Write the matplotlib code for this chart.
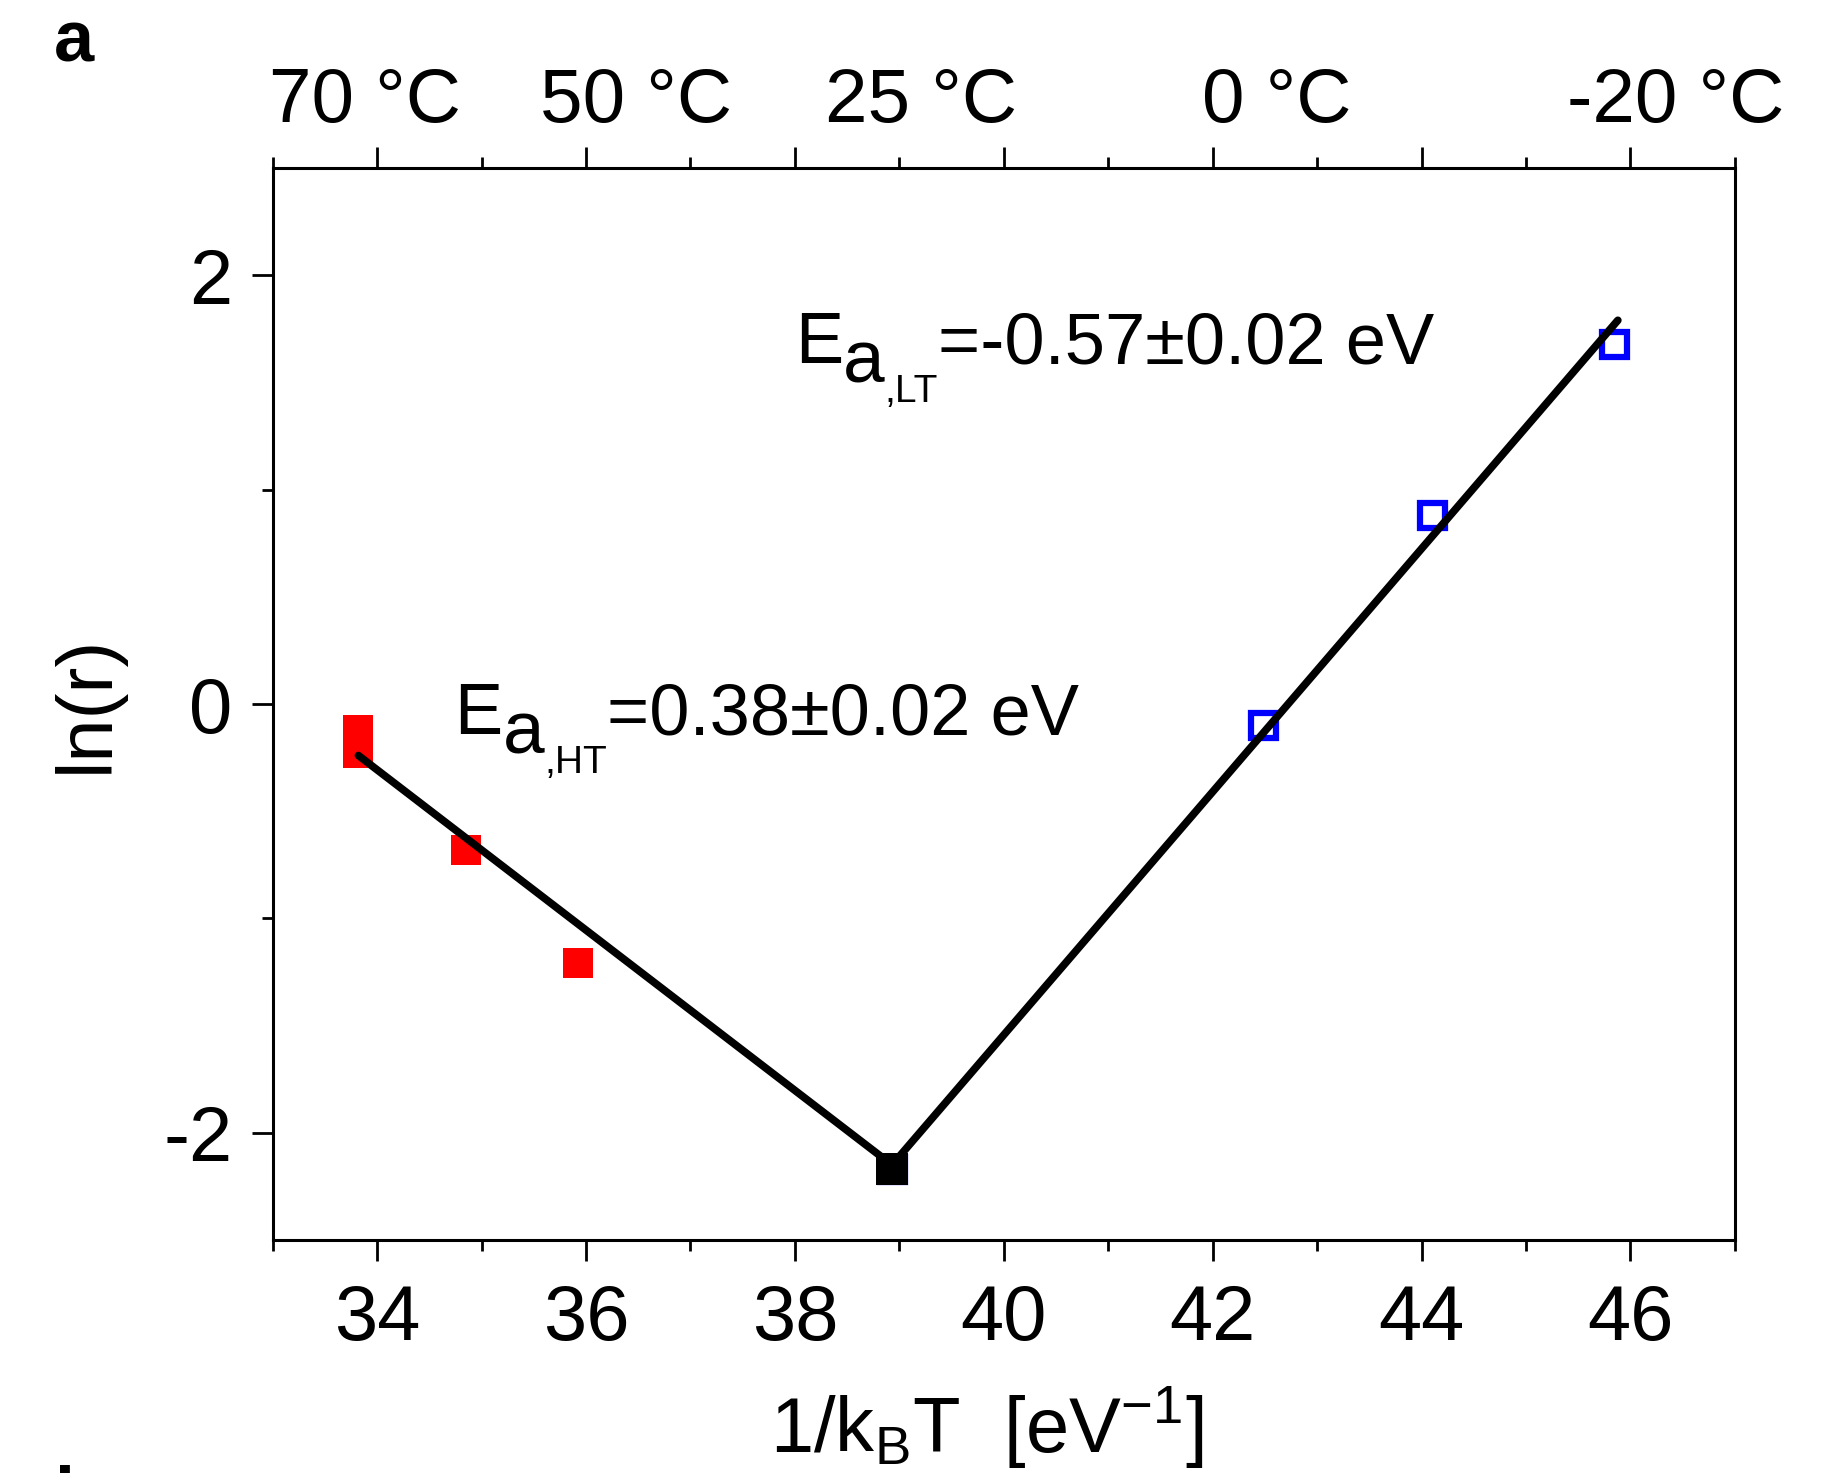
import numpy as np
import matplotlib
matplotlib.use("Agg")
import matplotlib.pyplot as plt
from matplotlib.ticker import MultipleLocator
import matplotlib.transforms as mtransforms

plt.rcParams['font.family'] = 'Liberation Sans'
plt.rcParams['mathtext.fontset'] = 'custom'
plt.rcParams['mathtext.rm'] = 'Liberation Sans'
plt.rcParams['mathtext.it'] = 'Liberation Sans:italic'
plt.rcParams['mathtext.bf'] = 'Liberation Sans:bold'
plt.rcParams['axes.unicode_minus'] = False

# high temperature points (red, filled)
ht_x = [33.82, 33.82, 34.85, 35.92]
ht_y = [-0.12, -0.23, -0.68, -1.21]
# low temperature points (blue, open)
lt_x = [38.93, 42.48, 44.10, 45.84]
lt_y = [-2.17, -0.10, 0.88, 1.68]
# crossover point (black)
mid_x = [38.93]
mid_y = [-2.17]

# fitted lines
ht_fit_x = [33.82, 38.93]
ht_fit_y = [-0.24, -2.15]
lt_fit_x = [38.93, 45.88]
lt_fit_y = [-2.15, 1.79]

# temperature labels on the top axis
temp_labels = ["70 °C", "50 °C", "25 °C", "0 °C", "-20 °C"]
temp_pos = [33.88, 36.48, 39.21, 42.61, 46.43]

fig = plt.figure(figsize=(18.43, 14.73), dpi=100)
ax = fig.add_axes([0.148, 0.1582, 0.9413 - 0.148, 0.8859 - 0.1582])

ax.plot(ht_fit_x, ht_fit_y, color='black', lw=5.5, zorder=4, solid_capstyle='round')
ax.plot(lt_fit_x, lt_fit_y, color='black', lw=5.5, zorder=4, solid_capstyle='round')

ax.plot(ht_x, ht_y, 's', color='red', ms=22, mew=0, zorder=3)
ax.plot(lt_x, lt_y, 's', mfc='none', mec='blue', ms=18, mew=4.5, zorder=3)
ax.plot(mid_x, mid_y, 's', color='black', ms=23, mew=0, zorder=5)

ax.set_xlim(33, 47)
ax.set_ylim(-2.5, 2.5)
ax.xaxis.set_major_locator(MultipleLocator(2))
ax.xaxis.set_minor_locator(MultipleLocator(1))
ax.yaxis.set_major_locator(MultipleLocator(2))
ax.yaxis.set_minor_locator(MultipleLocator(1))

ax.tick_params(axis='x', which='both', direction='out', top=True, labeltop=False,
               width=2, labelsize=56, pad=16)
ax.tick_params(axis='y', which='both', direction='out', right=False,
               width=2, labelsize=56, pad=14)
ax.tick_params(which='major', length=15)
ax.tick_params(which='minor', length=8)
for s in ax.spines.values():
    s.set_linewidth(2.2)

ax.set_xlabel(r'1/k$_\mathregular{B}$T  [eV$^\mathregular{-1}$]', fontsize=56)
ax.set_ylabel('ln(r)', fontsize=56)
ax.xaxis.set_label_coords(0.488, -0.135)
ax.yaxis.set_label_coords(-0.102, 0.5)

trans = mtransforms.blended_transform_factory(ax.transData, ax.transAxes)
for lab, xp in zip(temp_labels, temp_pos):
    ax.text(xp, 1.043, lab, transform=trans, ha='center', va='baseline', fontsize=55)

def energy_label(x, y, sub, rest):
    t1 = ax.text(x, y, 'E', fontsize=52, va='baseline')
    t2 = ax.annotate('a', xy=(1, 0), xycoords=t1, xytext=(0, -14),
                     textcoords='offset points', fontsize=54, va='bottom')
    t3 = ax.annotate(sub, xy=(1, 0), xycoords=t2, xytext=(0, -9),
                     textcoords='offset points', fontsize=28, va='bottom')
    ax.annotate(rest, xy=(1, 0), xycoords=(t3, t1), fontsize=52, va='bottom')

energy_label(38.0, 1.59, ',LT', '=-0.57±0.02 eV')
energy_label(34.74, -0.14, ',HT', '=0.38±0.02 eV')

fig.text(54 / 1843, 1 - 62 / 1473, 'a', fontsize=52, fontweight='bold',
         family=['Liberation Sans', 'DejaVu Sans'], va='baseline')
fig.text(54 / 1843, 1 - 1518 / 1473, 'b', fontsize=52, fontweight='bold',
         family=['Liberation Sans', 'DejaVu Sans'], va='baseline')

fig.savefig('out.png', dpi=100)
